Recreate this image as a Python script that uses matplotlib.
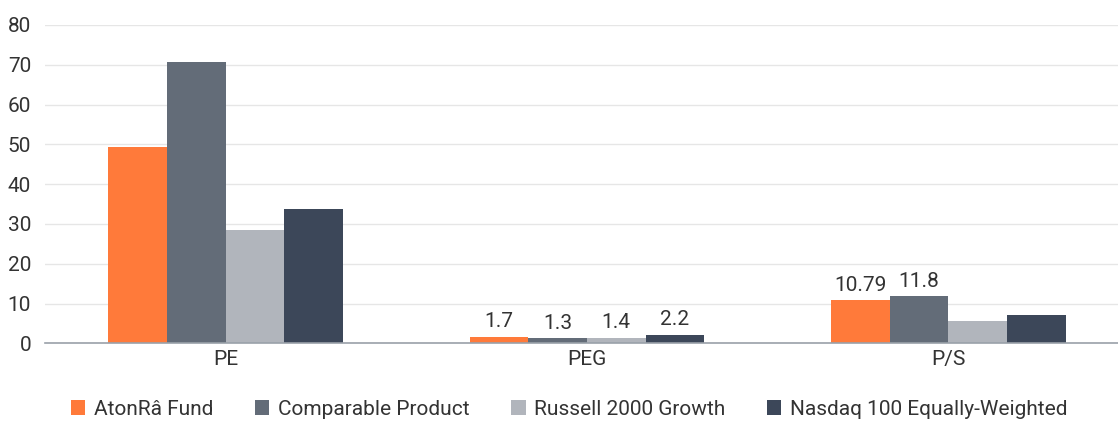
import numpy as np
import matplotlib
matplotlib.use("Agg")
import matplotlib.pyplot as plt

plt.rcParams["font.family"] = ["Roboto", "DejaVu Sans"]

categories = ["PE", "PEG", "P/S"]
series_names = ["AtonRâ Fund", "Comparable Product", "Russell 2000 Growth",
                "Nasdaq 100 Equally-Weighted"]
aton = [49.3, 1.7, 10.79]
comparable = [70.8, 1.3, 11.8]
russell = [28.5, 1.4, 5.7]
nasdaq = [33.8, 2.2, 7.2]
# which bars carry a value label (per series, per category)
show_label = [
    [False, True, True],
    [False, True, True],
    [False, True, False],
    [False, True, False],
]
yticks = [0, 10, 20, 30, 40, 50, 60, 70, 80]

colors = ["#FF7A3A", "#636C78", "#B1B5BC", "#3C4759"]
text_color = "#333333"
fs = 15

fig = plt.figure(figsize=(11.18, 4.23), dpi=100)
ax = fig.add_axes([0.0403, 0.1884, 0.9597, 0.7525])

x = np.arange(len(categories))
width = 0.1625
all_series = [aton, comparable, russell, nasdaq]
for i, vals in enumerate(all_series):
    offs = (i - 1.5) * width
    bars = ax.bar(x + offs, vals, width, color=colors[i], label=series_names[i],
                  zorder=3)
    for j, b in enumerate(bars):
        if show_label[i][j]:
            ax.annotate(f"{vals[j]:g}", (b.get_x() + b.get_width() / 2, b.get_height()),
                        xytext=(0, 4), textcoords="offset points", ha="center",
                        va="bottom", fontsize=fs, color=text_color)

ax.set_xlim(-0.5, 2.47)
ax.set_ylim(0, 80)
ax.set_yticks(yticks)
ax.set_xticks(x)
ax.set_xticklabels(categories)
ax.tick_params(axis="both", length=0, labelsize=fs, colors=text_color)
ax.tick_params(axis="y", pad=10)
ax.tick_params(axis="x", pad=5)
ax.grid(axis="y", color="#E6E6E6", linewidth=1, zorder=0)
for s in ["top", "right", "left"]:
    ax.spines[s].set_visible(False)
ax.spines["bottom"].set_color("#9AA1A9")
ax.spines["bottom"].set_linewidth(1.2)
ax.spines["bottom"].set_zorder(4)

fig.legend(loc="lower center", bbox_to_anchor=(0.509, -0.035), ncol=4,
           frameon=False, fontsize=fs, handlelength=0.7, handleheight=0.7,
           handletextpad=0.4, columnspacing=2.0, labelcolor=text_color)

fig.savefig("out.png", dpi=100)
